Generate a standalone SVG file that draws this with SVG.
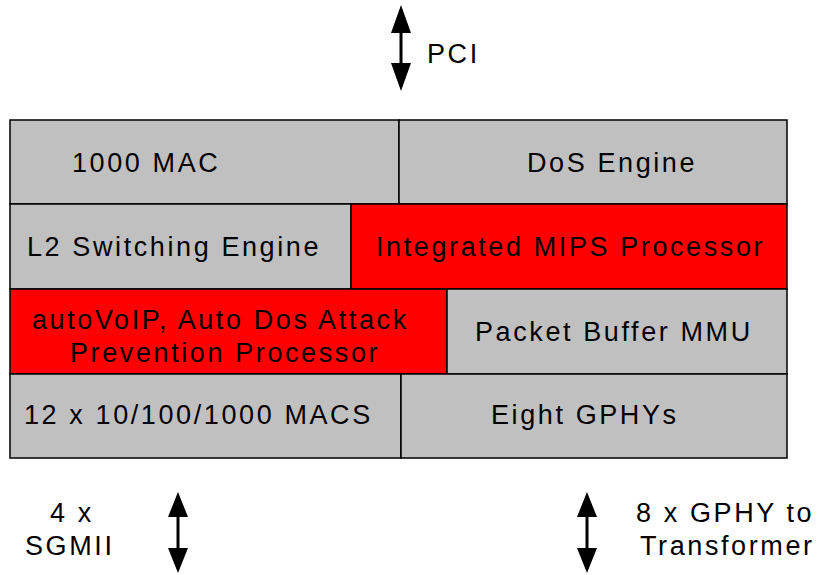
<svg xmlns="http://www.w3.org/2000/svg" width="817" height="575" viewBox="0 0 817 575">
<style>
.g{fill:#C0C0C0;stroke:#000;stroke-width:1.5}
.r{fill:#FF0000;stroke:#000;stroke-width:1.5}
text{font-family:"Liberation Sans",Arial,sans-serif;font-size:27px;letter-spacing:2.6px;fill:#000}
.ln{stroke:#000;stroke-width:3;fill:none}
</style>
<rect x="0" y="0" width="817" height="575" fill="#fff"/>
<g id="mac1000"><rect class="g" x="10" y="120" width="389" height="84"/><text x="72" y="172">1000 MAC</text></g>
<g id="dos"><rect class="g" x="399" y="120" width="388" height="84"/><text x="527" y="172">DoS Engine</text></g>
<g id="l2"><rect class="g" x="10" y="204" width="341" height="85"/><text x="27" y="256">L2 Switching Engine</text></g>
<g id="mips"><rect class="r" x="351" y="204" width="436" height="85"/><text x="376" y="256">Integrated MIPS Processor</text></g>
<g id="autovoip"><rect class="r" x="10" y="289" width="437" height="85"/><text x="32" y="329">autoVoIP, Auto Dos Attack</text><text x="70" y="362">Prevention Processor</text></g>
<g id="mmu"><rect class="g" x="447" y="289" width="340" height="85"/><text x="475" y="341">Packet Buffer MMU</text></g>
<g id="macs"><rect class="g" x="10" y="374" width="391" height="84"/><text x="24" y="424">12 x 10/100/1000 MACS</text></g>
<g id="gphy"><rect class="g" x="401" y="374" width="386" height="84"/><text x="491" y="424">Eight GPHYs</text></g>
<g id="labels">
<text x="427" y="63">PCI</text>
<text x="50" y="522">4 x</text>
<text x="25" y="555">SGMII</text>
<text x="636" y="522">8 x GPHY to</text>
<text x="640" y="555">Transformer</text>
</g>
<g id="connectors">
<line class="ln" x1="401" y1="30" x2="401" y2="64"/>
<path d="M391,33 L401,5 L411,33 Z M391,63 L401,91 L411,63 Z" fill="#000"/>
<line class="ln" x1="178" y1="515" x2="178" y2="550"/>
<path d="M168,517 L178,492 L188,517 Z M168,548 L178,573 L188,548 Z" fill="#000"/>
<line class="ln" x1="587" y1="515" x2="587" y2="550"/>
<path d="M577,517 L587,492 L597,517 Z M577,548 L587,573 L597,548 Z" fill="#000"/>
</g>
</svg>
